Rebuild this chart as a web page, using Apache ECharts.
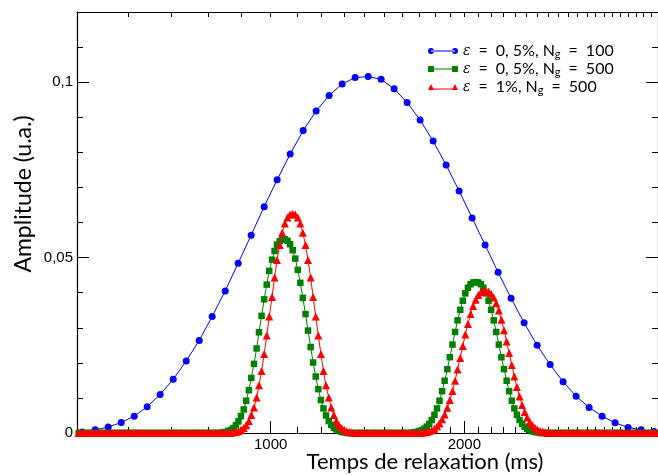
<!DOCTYPE html>
<html>
<head>
<meta charset="utf-8">
<script src="https://cdn.jsdelivr.net/npm/echarts@6.0.0/dist/echarts.min.js"></script>
<style>
    html, body { margin: 0; padding: 0; background: #fff; }
    #t2-chart { width: 658px; height: 475px; }
</style>
</head>
<body>
<div id="t2-chart"></div>
<script>
// relaxation times (ms), coarse grid (N_g = 100), visible part
var blueT = [486.3, 509.4, 533.7, 559.1, 585.7, 613.6, 642.8, 673.4, 705.5, 739.1,
    774.3, 811.1, 849.8, 890.2, 932.6, 977.0, 1023.5, 1072.3, 1123.3, 1176.8,
    1232.8, 1291.5, 1353.0, 1417.5, 1485.0, 1555.7, 1629.7, 1707.3, 1788.6, 1873.8,
    1963.0, 2056.5, 2154.4, 2257.0, 2364.5, 2477.1, 2595.0, 2718.6, 2848.0, 2983.6,
    3125.7, 3274.6, 3430.5, 3593.8, 3764.9, 3944.2, 4131.9];
var blueAmp = [0.0001, 0.0003, 0.0009, 0.0017, 0.0030, 0.0048, 0.0075, 0.0110, 0.0153, 0.0205,
    0.0264, 0.0332, 0.0405, 0.0484, 0.0564, 0.0645, 0.0722, 0.0795, 0.0862, 0.0918,
    0.0962, 0.0995, 0.1013, 0.1016, 0.1008, 0.0981, 0.0942, 0.0892, 0.0832, 0.0764,
    0.0690, 0.0613, 0.0536, 0.0458, 0.0384, 0.0314, 0.0250, 0.0195, 0.0146, 0.0105,
    0.0073, 0.0048, 0.0029, 0.0016, 0.0009, 0.0004, 0.0002];

// fine grid (N_g = 500), visible part
var fineT = [503, 507, 512, 517, 522,
    527, 531, 536, 541, 546, 551, 557, 562, 567, 572,
    577, 583, 588, 594, 599, 605, 610, 616, 622, 627,
    633, 639, 645, 651, 657, 663, 669, 676, 682, 688,
    695, 701, 707, 714, 721, 727, 734, 741, 748, 755,
    762, 769, 776, 783, 790, 798, 805, 813, 820, 828,
    835, 843, 851, 859, 867, 875, 883, 891, 899, 908,
    916, 925, 933, 942, 951, 959, 968, 977, 986, 995,
    1005, 1014, 1023, 1033, 1042, 1052, 1062, 1072, 1082, 1092,
    1102, 1112, 1122, 1133, 1143, 1154, 1164, 1175, 1186, 1197,
    1208, 1219, 1231, 1242, 1254, 1265, 1277, 1289, 1301, 1313,
    1325, 1337, 1350, 1362, 1375, 1388, 1401, 1414, 1427, 1440,
    1453, 1467, 1480, 1494, 1508, 1522, 1536, 1550, 1565, 1579,
    1594, 1608, 1623, 1638, 1654, 1669, 1684, 1700, 1716, 1732,
    1748, 1764, 1780, 1797, 1814, 1830, 1847, 1864, 1882, 1899,
    1917, 1935, 1952, 1971, 1989, 2007, 2026, 2045, 2064, 2083,
    2102, 2122, 2141, 2161, 2181, 2201, 2222, 2242, 2263, 2284,
    2305, 2327, 2348, 2370, 2392, 2414, 2437, 2459, 2482, 2505,
    2528, 2552, 2575, 2599, 2623, 2648, 2672, 2697, 2722, 2747,
    2773, 2798, 2824, 2850, 2877, 2904, 2930, 2958, 2985, 3013,
    3041, 3069, 3097, 3126, 3155, 3184, 3214, 3244, 3274, 3304,
    3335, 3366, 3397, 3428, 3460, 3492, 3525, 3557, 3590, 3623,
    3657, 3691, 3725, 3760, 3795, 3830, 3865, 3901, 3937, 3974];

var greenAmp = [0, 0, 0, 0, 0,
    0, 0, 0, 0, 0, 0, 0, 0, 0, 0,
    0, 0, 0, 0, 0, 0, 0, 0, 0, 0,
    0, 0, 0, 0, 0, 0, 0, 0, 0, 0,
    0, 0, 0, 0, 0, 0, 0, 0, 0, 0,
    0, 0, 0, 0, 0, 0, 0, 0, 0, 0,
    0, 0.0002, 0.0003, 0.0006, 0.0009, 0.0014, 0.0022, 0.0033, 0.0048, 0.0067,
    0.0092, 0.0122, 0.0157, 0.0197, 0.0241, 0.0287, 0.0334, 0.0381, 0.0423, 0.0462,
    0.0494, 0.0519, 0.0537, 0.0547, 0.0552, 0.0552, 0.0548, 0.0538, 0.0521, 0.0497,
    0.0465, 0.0428, 0.0385, 0.0339, 0.0292, 0.0245, 0.0201, 0.0161, 0.0125, 0.0094,
    0.0070, 0.0050, 0.0034, 0.0023, 0.0015, 0.0010, 0.0006, 0.0003, 0.0002, 0,
    0, 0, 0, 0, 0, 0, 0, 0, 0, 0,
    0, 0, 0, 0, 0, 0, 0, 0, 0, 0,
    0, 0, 0, 0, 0, 0.0002, 0.0003, 0.0005, 0.0007, 0.0012,
    0.0018, 0.0026, 0.0037, 0.0052, 0.0070, 0.0092, 0.0119, 0.0149, 0.0182, 0.0216,
    0.0252, 0.0288, 0.0321, 0.0351, 0.0377, 0.0398, 0.0414, 0.0424, 0.0429, 0.0430,
    0.0429, 0.0424, 0.0414, 0.0398, 0.0377, 0.0351, 0.0321, 0.0288, 0.0252, 0.0216,
    0.0182, 0.0149, 0.0119, 0.0092, 0.0070, 0.0052, 0.0037, 0.0026, 0.0018, 0.0012,
    0.0007, 0.0005, 0.0003, 0.0002, 0, 0, 0, 0, 0, 0,
    0, 0, 0, 0, 0, 0, 0, 0, 0, 0,
    0, 0, 0, 0, 0, 0, 0, 0, 0, 0,
    0, 0, 0, 0, 0, 0, 0, 0, 0, 0,
    0, 0, 0, 0, 0, 0, 0, 0, 0, 0];

var redAmp = [0, 0, 0, 0, 0,
    0, 0, 0, 0, 0, 0, 0, 0, 0, 0,
    0, 0, 0, 0, 0, 0, 0, 0, 0, 0,
    0, 0, 0, 0, 0, 0, 0, 0, 0, 0,
    0, 0, 0, 0, 0, 0, 0, 0, 0, 0,
    0, 0, 0, 0, 0, 0, 0, 0, 0, 0,
    0, 0, 0, 0, 0, 0.0002, 0.0003, 0.0005, 0.0009, 0.0014,
    0.0022, 0.0034, 0.0051, 0.0073, 0.0101, 0.0136, 0.0177, 0.0225, 0.0278, 0.0332,
    0.0388, 0.0443, 0.0493, 0.0536, 0.0571, 0.0597, 0.0614, 0.0623, 0.0625, 0.0623,
    0.0614, 0.0597, 0.0571, 0.0536, 0.0493, 0.0443, 0.0388, 0.0332, 0.0278, 0.0225,
    0.0177, 0.0136, 0.0101, 0.0073, 0.0051, 0.0034, 0.0022, 0.0014, 0.0009, 0.0005,
    0.0003, 0.0002, 0, 0, 0, 0, 0, 0, 0, 0,
    0, 0, 0, 0, 0, 0, 0, 0, 0, 0,
    0, 0, 0, 0, 0, 0, 0, 0, 0, 0.0002,
    0.0003, 0.0005, 0.0008, 0.0012, 0.0019, 0.0027, 0.0039, 0.0053, 0.0072, 0.0094,
    0.0120, 0.0149, 0.0181, 0.0214, 0.0248, 0.0281, 0.0311, 0.0339, 0.0362, 0.0380,
    0.0393, 0.0401, 0.0405, 0.0405, 0.0403, 0.0397, 0.0386, 0.0370, 0.0349, 0.0323,
    0.0293, 0.0261, 0.0228, 0.0194, 0.0161, 0.0131, 0.0104, 0.0080, 0.0060, 0.0044,
    0.0031, 0.0022, 0.0015, 0.0010, 0.0006, 0.0004, 0.0002, 0, 0, 0,
    0, 0, 0, 0, 0, 0, 0, 0, 0, 0,
    0, 0, 0, 0, 0, 0, 0, 0, 0, 0,
    0, 0, 0, 0, 0, 0, 0, 0, 0, 0,
    0, 0, 0, 0, 0, 0, 0, 0, 0, 0];

// ticks
var xMinorTicks = [600, 700, 800, 900, 1100, 1200, 1300, 1400, 1500, 1600, 1700, 1800, 1900,
    2100, 2200, 2300, 2400, 2500, 2600, 2700, 2800, 2900, 3000, 3100, 3200, 3300, 3400,
    3500, 3600, 3700, 3800, 3900];
var xMajorTicks = [1000, 2000];
var xTopTicks = [600, 700, 800, 900, 1000, 1100, 1200, 1300, 1400, 1500, 1600, 1700, 1800, 1900,
    2000, 2100, 2200, 2300, 2400, 2500, 2600, 2700, 2800, 2900, 3000, 3100, 3200, 3300, 3400,
    3500, 3600, 3700, 3800, 3900];
var yMajorTicks = [0, 0.05, 0.1];
var yMinorTicks = [0.01, 0.02, 0.03, 0.04, 0.06, 0.07, 0.08, 0.09, 0.11];

var seriesNames = ['s100', 's500', 's500b'];
var seriesColors = ['#0000ff', '#008000', '#ff0000'];
var legendRich = {
    s100: '{e|ε}\u2002=\u20020, 5%, N{s|g}\u2002=\u2002100',
    s500: '{e|ε}\u2002=\u20020, 5%, N{s|g}\u2002=\u2002500',
    s500b: '{e|ε}\u2002=\u20021%, N{s|g}\u2002=\u2002500'
};

var chart;

function pairs(ts, amps) {
    return ts.map(function (t, i) { return [t, amps[i]]; });
}

function xAxisDef(pos, ticks, len, showLine, labels) {
    return {
        type: 'log',
        logBase: 10,
        min: 500,
        max: 4000,
        position: pos,
        axisLine: { show: showLine, onZero: false, lineStyle: { color: '#000', width: 1.2 } },
        axisTick: { show: true, inside: true, length: len, customValues: ticks, lineStyle: { color: '#000', width: 1 } },
        axisLabel: labels ? {
            show: true, customValues: labels, margin: 4,
            color: '#000', fontFamily: 'Liberation Sans', fontSize: 15,
            formatter: function (v) { return String(v); }
        } : { show: false },
        splitLine: { show: false },
        minorTick: { show: false }
    };
}

function yAxisDef(pos, ticks, len, showLine, labels) {
    return {
        type: 'value',
        min: 0,
        max: 0.12,
        position: pos,
        axisLine: { show: showLine, onZero: false, lineStyle: { color: '#000', width: 1.2 } },
        axisTick: { show: true, inside: true, length: len, customValues: ticks, lineStyle: { color: '#000', width: 1 } },
        axisLabel: labels ? {
            show: true, customValues: labels, margin: 4,
            color: '#000', fontFamily: 'Liberation Sans', fontSize: 15,
            formatter: function (v) { return String(+v.toFixed(3)).replace('.', ','); }
        } : { show: false },
        splitLine: { show: false }
    };
}

function lineSeries(i, data, symbol, size) {
    return {
        name: seriesNames[i],
        type: 'line',
        xAxisIndex: 0,
        yAxisIndex: 0,
        data: data,
        symbol: symbol,
        symbolSize: size,
        showAllSymbol: true,
        animation: false,
        z: 2 + i,
        lineStyle: { color: seriesColors[i], width: 1 },
        itemStyle: { color: seriesColors[i] }
    };
}

function draw_chart(id) {
    chart = echarts.init(document.getElementById(id), null, { renderer: 'canvas' });
    var option = {
        backgroundColor: '#fff',
        animation: false,
        // plot frame runs a few px past the right edge of the window
        grid: { left: 77, top: 12, width: 588, height: 421, containLabel: false },
        legend: {
            orient: 'vertical',
            left: 423,
            top: 37,
            itemWidth: 30,
            itemHeight: 6,
            itemGap: 0,
            selectedMode: false,
            data: [
                { name: 's100', icon: 'path://M0,3a3,3 0 1,0 6,0a3,3 0 1,0 -6,0z M3,2.5h24v1h-24z M24,3a3,3 0 1,0 6,0a3,3 0 1,0 -6,0z' },
                { name: 's500', icon: 'path://M0,0h6v6h-6z M3,2.5h24v1h-24z M24,0h6v6h-6z' },
                { name: 's500b', icon: 'path://M0,6l3,-6l3,6z M3,4.5h24v1h-24z M24,6l3,-6l3,6z' }
            ],
            formatter: function (name) { return legendRich[name]; },
            textStyle: {
                color: '#000',
                fontFamily: 'Lato',
                fontSize: 16,
                lineHeight: 18,
                rich: {
                    e: { fontFamily: 'DejaVu Serif', fontStyle: 'italic', fontSize: 14, color: '#000', lineHeight: 18 },
                    s: { fontFamily: 'Lato', fontSize: 11, color: '#000', lineHeight: 8, verticalAlign: 'bottom' }
                }
            }
        },
        graphic: [
            {
                type: 'text', x: 425, y: 462,
                style: { text: 'Temps de relaxation (ms)', fontFamily: 'Lato', fontSize: 22, fill: '#000', align: 'center', verticalAlign: 'middle' }
            },
            {
                type: 'text', x: 24, y: 194, rotation: Math.PI / 2,
                style: { text: 'Amplitude (u.a.)', fontFamily: 'Lato', fontSize: 23, fill: '#000', align: 'center', verticalAlign: 'middle' }
            }
        ],
        xAxis: [
            xAxisDef('bottom', xMinorTicks, 6, true, xMajorTicks),
            xAxisDef('bottom', xMajorTicks, 12, false, null),
            xAxisDef('top', xTopTicks, 5, true, null)
        ],
        yAxis: [
            yAxisDef('left', yMajorTicks, 12, true, yMajorTicks),
            yAxisDef('left', yMinorTicks, 6, false, null),
            yAxisDef('right', yMajorTicks, 12, true, null),
            yAxisDef('right', yMinorTicks, 6, false, null)
        ],
        series: [
            lineSeries(0, pairs(blueT, blueAmp), 'circle', 7),
            lineSeries(1, pairs(fineT, greenAmp), 'rect', 6.5),
            lineSeries(2, pairs(fineT, redAmp), 'triangle', 8)
        ]
    };
    chart.setOption(option);
}

draw_chart('t2-chart');
</script>
</body>
</html>
